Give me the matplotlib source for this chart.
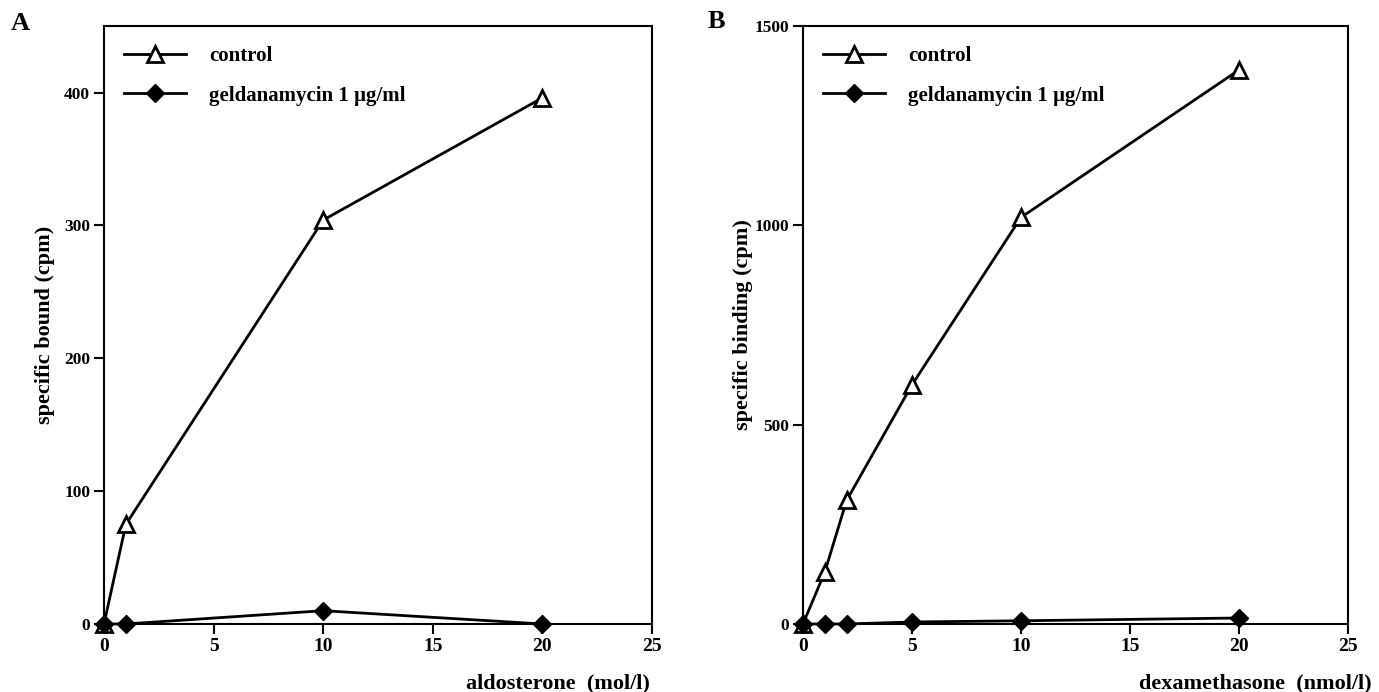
import matplotlib.pyplot as plt

plt.rcParams['font.family'] = ['Liberation Serif', 'DejaVu Serif']
plt.rcParams['font.weight'] = 'bold'

# panel A: aldosterone
aldo_conc = [0, 1, 10, 20]
aldo_control = [0, 75, 304, 396]
aldo_gelda = [0, 0, 10, 0]

# panel B: dexamethasone
dex_conc = [0, 1, 2, 5, 10, 20]
dex_control = [0, 130, 310, 600, 1020, 1390]
dex_gelda = [0, 0, 0, 5, 8, 15]

x_ticks = [0, 5, 10, 15, 20, 25]

fig = plt.figure(figsize=(13.79, 6.92), dpi=100)
axA = fig.add_axes([0.0754, 0.0983, 0.3974, 0.864])
axB = fig.add_axes([0.5823, 0.0983, 0.3952, 0.864])


def draw(ax, x, ctrl, gel, ymax, yticks, xlabel, ylabel, xlab_x, ylab_x):
    ax.plot(x, ctrl, color='black', lw=2, marker='^', ms=11,
            mfc='white', mec='black', mew=2, label='control', clip_on=False, zorder=3)
    ax.plot(x, gel, color='black', lw=2, marker='D', ms=9,
            mfc='black', mec='black', label='geldanamycin 1 \u00b5g/ml', clip_on=False, zorder=4)
    ax.set_xlim(0, 25)
    ax.set_ylim(0, ymax)
    ax.set_xticks(x_ticks)
    ax.set_yticks(yticks)
    for s in ax.spines.values():
        s.set_linewidth(1.5)
    ax.tick_params(direction='out', length=7, width=1.5, labelsize=12.5, pad=3)
    ax.tick_params(axis='x', labelsize=14)
    ax.set_xlabel(xlabel, fontsize=16, fontweight='bold', ha='right', va='center')
    ax.xaxis.set_label_coords(xlab_x, -0.100)
    ax.set_ylabel(ylabel, fontsize=16, fontweight='bold', va='center')
    ax.yaxis.set_label_coords(ylab_x, 0.5)
    ax.legend(loc='upper left', frameon=False, handlelength=3.0,
              handletextpad=1.1, labelspacing=0.95, borderaxespad=0.55,
              prop={'weight': 'bold', 'size': 15})


draw(axA, aldo_conc, aldo_control, aldo_gelda, 450, [0, 100, 200, 300, 400],
     'aldosterone  (mol/l)', 'specific bound (cpm)', 0.997, -0.107)
draw(axB, dex_conc, dex_control, dex_gelda, 1500, [0, 500, 1000, 1500],
     'dexamethasone  (nmol/l)', 'specific binding (cpm)', 1.044, -0.11)

fig.text(0.008, 0.957, 'A', fontsize=19, fontweight='bold')
fig.text(0.513, 0.960, 'B', fontsize=19, fontweight='bold')

fig.savefig('out.png', dpi=100)
